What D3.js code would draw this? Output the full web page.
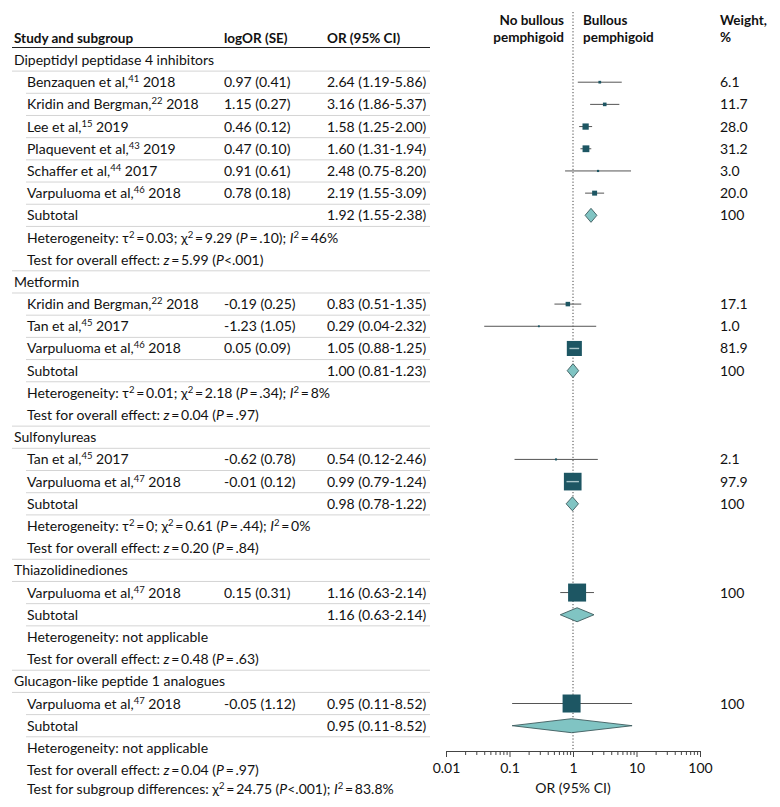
<!DOCTYPE html>
<html><head><meta charset="utf-8">
<script src="https://cdn.jsdelivr.net/npm/d3@7"></script>
<style>body{margin:0;background:#fff} svg text{font-family:Lato, "Noto Sans", sans-serif; fill:#111}</style>
</head><body><svg id="c" width="780" height="807"></svg>
<script>
// ---------- DATA ----------
const groupNames = ["Dipeptidyl peptidase 4 inhibitors","Metformin","Sulfonylureas","Thiazolidinediones","Glucagon-like peptide 1 analogues"];
const studyNames = ["Benzaquen et al,","Kridin and Bergman,","Lee et al,","Plaquevent et al,","Schaffer et al,","Varpuluoma et al,",
  "Kridin and Bergman,","Tan et al,","Varpuluoma et al,",
  "Tan et al,","Varpuluoma et al,",
  "Varpuluoma et al,",
  "Varpuluoma et al,"];
const studyRefs = ["41","22","15","43","44","46","22","45","46","45","47","47","47"];
const studyYears = ["2018","2018","2019","2019","2017","2018","2018","2017","2018","2017","2018","2018","2018"];
const studyGroup = [0,0,0,0,0,0,1,1,1,2,2,3,4];
const logOR = ["0.97","1.15","0.46","0.47","0.91","0.78","-0.19","-1.23","0.05","-0.62","-0.01","0.15","-0.05"];
const logSE = ["0.41","0.27","0.12","0.10","0.61","0.18","0.25","1.05","0.09","0.78","0.12","0.31","1.12"];
const studyOR = [2.64,3.16,1.58,1.60,2.48,2.19,0.83,0.29,1.05,0.54,0.99,1.16,0.95];
const studyLow = [1.19,1.86,1.25,1.31,0.75,1.55,0.51,0.04,0.88,0.12,0.79,0.63,0.11];
const studyHigh = [5.86,5.37,2.00,1.94,8.20,3.09,1.35,2.32,1.25,2.46,1.24,2.14,8.52];
const studyWeight = [6.1,11.7,28.0,31.2,3.0,20.0,17.1,1.0,81.9,2.1,97.9,100,100];
const subOR = [1.92,1.00,0.98,1.16,0.95];
const subLow = [1.55,0.81,0.78,0.63,0.11];
const subHigh = [2.38,1.23,1.22,2.14,8.52];
const subWeight = ["100","100","100","",""];
const hetTau = ["0.03","0.01","0",null,null];
const hetChi = ["9.29","2.18","0.61",null,null];
const hetP = [".10",".34",".44",null,null];
const hetI = ["46%","8%","0%",null,null];
const effZ = ["5.99","0.04","0.20","0.48","0.04"];
const effP = ["<.001","=.97","=.84","=.63","=.97"];
const axisTicks = [0.01,0.1,1,10,100];
const axisTickLabels = ["0.01","0.1","1","10","100"];

// ---------- LAYOUT ----------
const svg = d3.select("#c");
const FS = 14, HFS = 13.5;
const rowY0 = 60, rowH = 22.19;
const xGroup = 14, xStudy = 27, xLog = 224, xOR = 327, xW = 720, tableRight = 430;
const x = d3.scaleLog().domain([0.01,100]).range([446,700]);
const size = d3.scaleLinear().domain([0,100]).range([1.7,18]);
const axisY = 751;
const sqColor = "#1d5663", diaFill = "#80c4c3", diaStroke = "#3d5b5e", ciColor = "#555";
const f2 = d3.format(".2f");
const orText = (o,l,h) => `${f2(o)} (${f2(l)}-${f2(h)})`;
const T = "\u2009";

function rich(sel, segs){
  let raised = false;
  segs.forEach(s => {
    const [t, st] = typeof s === "string" ? [s, ""] : s;
    const ts = sel.append("tspan").text(t);
    if (st === "sup") { ts.attr("font-size", 9.5).attr("dy", raised ? 0 : -5); raised = true; }
    else { if (raised) ts.attr("dy", 5); raised = false; if (st === "i") ts.attr("font-style","italic"); }
  });
}

// build rows
const rows = [];
groupNames.forEach((g, gi) => {
  rows.push({type:"group", gi});
  studyGroup.forEach((sg, si) => { if (sg === gi) rows.push({type:"study", si}); });
  rows.push({type:"sub", gi});
  rows.push({type:"het", gi});
  rows.push({type:"eff", gi});
});
rows.forEach((r,i) => r.y = rowY0 + i*rowH);
const lastY = rows[rows.length-1].y + 19;

// header
svg.append("text").attr("x",xGroup).attr("y",43).attr("font-weight","bold").attr("font-size",HFS).text("Study and subgroup");
svg.append("text").attr("x",xLog).attr("y",43).attr("font-weight","bold").attr("font-size",HFS).text("logOR (SE)");
svg.append("text").attr("x",xOR).attr("y",43).attr("font-weight","bold").attr("font-size",HFS).text("OR (95% CI)");
svg.append("line").attr("x1",12).attr("x2",tableRight).attr("y1",47.5).attr("y2",47.5).attr("stroke","#222").attr("stroke-width",1);
[["No bullous",25],["pemphigoid",42]].forEach(([t,y]) => svg.append("text").attr("x",564).attr("y",y).attr("text-anchor","end").attr("font-weight","bold").attr("font-size",HFS).text(t));
[["Bullous",25],["pemphigoid",42]].forEach(([t,y]) => svg.append("text").attr("x",583).attr("y",y).attr("font-weight","bold").attr("font-size",HFS).text(t));
[["Weight,",25],["%",42]].forEach(([t,y]) => svg.append("text").attr("x",xW).attr("y",y).attr("font-weight","bold").attr("font-size",HFS).text(t));

// separator lines
rows.forEach((r,i) => {
  const ly = r.y + rowH/2;
  let x1 = null;
  if (r.type === "group") x1 = 12;
  else if (r.type === "study" || r.type === "sub") x1 = 26;
  else if (r.type === "eff" && i < rows.length-1) x1 = 12;
  if (x1 !== null) svg.append("line").attr("x1",x1).attr("x2",tableRight).attr("y1",ly).attr("y2",ly).attr("stroke","#d4d4d4").attr("stroke-width",1);
});

// reference line
svg.append("line").attr("x1",x(1)).attr("x2",x(1)).attr("y1",12).attr("y2",axisY).attr("stroke","#444").attr("stroke-width",1).attr("stroke-dasharray","1.2,2");

// rows text + marks
rows.forEach(r => {
  const ty = r.y + 5;
  if (r.type === "group") {
    svg.append("text").attr("x",xGroup).attr("y",ty).attr("font-size",FS).text(groupNames[r.gi]);
  } else if (r.type === "study") {
    const si = r.si;
    rich(svg.append("text").attr("x",xStudy).attr("y",ty).attr("font-size",FS), [studyNames[si], [studyRefs[si],"sup"], " " + studyYears[si]]);
    svg.append("text").attr("x",xLog).attr("y",ty).attr("font-size",FS).text(`${logOR[si]} (${logSE[si]})`);
    svg.append("text").attr("x",xOR).attr("y",ty).attr("font-size",FS).text(orText(studyOR[si],studyLow[si],studyHigh[si]));
    svg.append("text").attr("x",xW).attr("y",ty).attr("font-size",FS).text(d3.format(studyWeight[si] === 100 ? "d" : ".1f")(studyWeight[si]));
    const cx = x(studyOR[si]), s = size(studyWeight[si]);
    const lx1 = x(studyLow[si]), lx2 = x(studyHigh[si]);
    svg.append("line").attr("x1",lx1).attr("x2",lx2).attr("y1",r.y).attr("y2",r.y).attr("stroke",ciColor).attr("stroke-width",1);
    svg.append("rect").attr("x",cx-s/2).attr("y",r.y-s/2).attr("width",s).attr("height",s).attr("fill",sqColor);
    if (lx1 > cx - s/2 && lx2 < cx + s/2)
      svg.append("line").attr("x1",lx1).attr("x2",lx2).attr("y1",r.y).attr("y2",r.y).attr("stroke","#a9c6ca").attr("stroke-width",1.4);
  } else if (r.type === "sub") {
    const gi = r.gi;
    svg.append("text").attr("x",xStudy).attr("y",ty).attr("font-size",FS).text("Subtotal");
    svg.append("text").attr("x",xOR).attr("y",ty).attr("font-size",FS).text(orText(subOR[gi],subLow[gi],subHigh[gi]));
    svg.append("text").attr("x",xW).attr("y",ty).attr("font-size",FS).text(subWeight[gi]);
    const h = 7;
    const pts = [[x(subLow[gi]),r.y],[x(subOR[gi]),r.y-h],[x(subHigh[gi]),r.y],[x(subOR[gi]),r.y+h]];
    svg.append("path").attr("d", d3.line()(pts) + "Z").attr("fill",diaFill).attr("stroke",diaStroke).attr("stroke-width",0.9);
  } else if (r.type === "het") {
    const gi = r.gi, t = svg.append("text").attr("x",xStudy).attr("y",ty).attr("font-size",FS);
    if (hetTau[gi] === null) t.text("Heterogeneity: not applicable");
    else rich(t, ["Heterogeneity: τ",["2","sup"],`${T}=${T}${hetTau[gi]}; χ`,["2","sup"],`${T}=${T}${hetChi[gi]} (`,["P","i"],`${T}=${T}${hetP[gi]}); `,["I","i"],["2","sup"],`${T}=${T}${hetI[gi]}`]);
  } else if (r.type === "eff") {
    const gi = r.gi;
    const p = effP[gi];
    const rel = p[0] === "<" ? "<" : `${T}=${T}`;
    rich(svg.append("text").attr("x",xStudy).attr("y",ty).attr("font-size",FS),
      ["Test for overall effect: ",["z","i"],`${T}=${T}${effZ[gi]} (`,["P","i"],`${rel}${p.slice(1)})`]);
  }
});

// subgroup differences
rich(svg.append("text").attr("x",xStudy).attr("y",lastY+5).attr("font-size",FS),
  ["Test for subgroup differences: χ",["2","sup"],`${T}=${T}24.75 (`,["P","i"],`<.001); `,["I","i"],["2","sup"],`${T}=${T}83.8%`]);

// axis
const minor = [];
[0.01,0.1,1,10].forEach(d => { for (let k=2;k<=9;k++) minor.push(d*k); });
const gMin = svg.append("g").attr("transform",`translate(0,${axisY})`)
  .call(d3.axisBottom(x).tickValues(minor).tickSize(4).tickSizeOuter(0).tickFormat(""));
gMin.select(".domain").attr("stroke","#444");
gMin.selectAll(".tick line").attr("stroke","#444");
const gMaj = svg.append("g").attr("transform",`translate(0,${axisY})`)
  .call(d3.axisBottom(x).tickValues(axisTicks).tickSize(6).tickSizeOuter(0).tickFormat((d,i)=>axisTickLabels[i]));
gMaj.select(".domain").remove();
gMaj.selectAll(".tick line").attr("stroke","#444");
gMaj.selectAll(".tick text").attr("font-size",FS).attr("font-family","Lato, sans-serif").attr("fill","#111").attr("dy","0.9em");
svg.append("text").attr("x",x(1)).attr("y",793).attr("text-anchor","middle").attr("font-size",FS).text("OR (95% CI)");
</script></body></html>
